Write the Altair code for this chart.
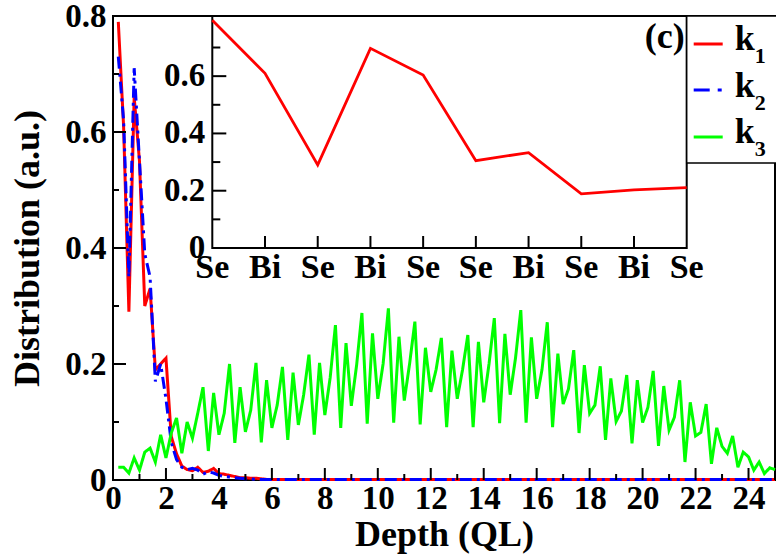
import altair as alt
import pandas as pd

# ---------------- data ----------------
depth = [round(0.2 * (i + 1), 1) for i in range(125)]  # atomic-layer depth grid (QL)

k1 = [0.79, 0.61, 0.29, 0.66, 0.55, 0.30, 0.33, 0.19, 0.20, 0.21,
      0.075, 0.045, 0.024, 0.018, 0.016, 0.022, 0.013, 0.015, 0.020, 0.011,
      0.010, 0.008, 0.006, 0.004, 0.004, 0.003, 0.003, 0.002, 0.001, 0.001,
      0.001, 0.001, 0.001, 0.001, 0.001, 0.001, 0.001, 0.001, 0.001, 0.001,
      0.001, 0.001, 0.001, 0.001, 0.001, 0.001, 0.001, 0.001, 0.001, 0.001,
      0.001, 0.001, 0.001, 0.001, 0.001, 0.001, 0.001, 0.001, 0.001, 0.001,
      0.001, 0.001, 0.001, 0.001, 0.001, 0.001, 0.001, 0.001, 0.001, 0.001,
      0.001, 0.001, 0.001, 0.001, 0.001, 0.001, 0.001, 0.001, 0.001, 0.001,
      0.001, 0.001, 0.001, 0.001, 0.001, 0.001, 0.001, 0.001, 0.001, 0.001,
      0.001, 0.001, 0.001, 0.001, 0.001, 0.001, 0.001, 0.001, 0.001, 0.001,
      0.001, 0.001, 0.001, 0.001, 0.001, 0.001, 0.001, 0.001, 0.001, 0.001,
      0.001, 0.001, 0.001, 0.001, 0.001, 0.001, 0.001, 0.001, 0.001, 0.001,
      0.001, 0.001, 0.001, 0.001, 0.001]

k2 = [0.73, 0.62, 0.35, 0.71, 0.55, 0.39, 0.35, 0.17, 0.20, 0.14,
      0.065, 0.035, 0.022, 0.018, 0.020, 0.017, 0.010, 0.014, 0.012, 0.008,
      0.006, 0.005, 0.004, 0.003, 0.002, 0.002, 0.001, 0.001, 0.001, 0.001,
      0.001, 0.001, 0.001, 0.001, 0.001, 0.001, 0.001, 0.001, 0.001, 0.001,
      0.001, 0.001, 0.001, 0.001, 0.001, 0.001, 0.001, 0.001, 0.001, 0.001,
      0.001, 0.001, 0.001, 0.001, 0.001, 0.001, 0.001, 0.001, 0.001, 0.001,
      0.001, 0.001, 0.001, 0.001, 0.001, 0.001, 0.001, 0.001, 0.001, 0.001,
      0.001, 0.001, 0.001, 0.001, 0.001, 0.001, 0.001, 0.001, 0.001, 0.001,
      0.001, 0.001, 0.001, 0.001, 0.001, 0.001, 0.001, 0.001, 0.001, 0.001,
      0.001, 0.001, 0.001, 0.001, 0.001, 0.001, 0.001, 0.001, 0.001, 0.001,
      0.001, 0.001, 0.001, 0.001, 0.001, 0.001, 0.001, 0.001, 0.001, 0.001,
      0.001, 0.001, 0.001, 0.001, 0.001, 0.001, 0.001, 0.001, 0.001, 0.001,
      0.001, 0.001, 0.001, 0.001, 0.001]

k3 = [0.022, 0.022, 0.012, 0.038, 0.017, 0.048, 0.055, 0.031, 0.078, 0.038,
      0.081, 0.107, 0.046, 0.100, 0.072, 0.115, 0.160, 0.050, 0.150, 0.078,
      0.115, 0.200, 0.064, 0.160, 0.083, 0.120, 0.202, 0.065, 0.172, 0.090,
      0.129, 0.195, 0.069, 0.185, 0.095, 0.147, 0.216, 0.078, 0.202, 0.112,
      0.176, 0.267, 0.090, 0.236, 0.128, 0.198, 0.288, 0.097, 0.253, 0.140,
      0.200, 0.296, 0.099, 0.247, 0.137, 0.200, 0.273, 0.096, 0.228, 0.152,
      0.190, 0.245, 0.091, 0.223, 0.140, 0.190, 0.250, 0.091, 0.238, 0.134,
      0.200, 0.279, 0.098, 0.252, 0.147, 0.210, 0.293, 0.099, 0.246, 0.140,
      0.190, 0.272, 0.091, 0.218, 0.131, 0.157, 0.224, 0.081, 0.198, 0.115,
      0.129, 0.196, 0.069, 0.175, 0.101, 0.119, 0.181, 0.063, 0.172, 0.099,
      0.125, 0.188, 0.059, 0.162, 0.086, 0.108, 0.172, 0.031, 0.134, 0.076,
      0.082, 0.131, 0.028, 0.090, 0.058, 0.046, 0.076, 0.022, 0.048, 0.040,
      0.017, 0.031, 0.011, 0.021, 0.018]

inset_labels = ["Se", "Bi", "Se", "Bi", "Se", "Se", "Bi", "Se", "Bi", "Se"]
inset_k1 = [0.795, 0.61, 0.29, 0.697, 0.604, 0.305, 0.333, 0.189, 0.203, 0.211]

x_major = [0, 2, 4, 6, 8, 10, 12, 14, 16, 18, 20, 22, 24]
x_minor = [1, 3, 5, 7, 9, 11, 13, 15, 17, 19, 21, 23, 25]
y_major = [0.2, 0.4, 0.6]
y_minor = [0.1, 0.3, 0.5, 0.7]
y_labels = [0, 0.2, 0.4, 0.6, 0.8]
inset_y_major = [0.2, 0.4, 0.6]
inset_y_minor = [0.1, 0.3, 0.5, 0.7]
inset_y_labels = ["0", "0.2", "0.4", "0.6"]
inset_y_label_vals = [0, 0.2, 0.4, 0.6]

series_names = ["1", "2", "3"]
series_colors = ["#ff0000", "#0000ff", "#00ff00"]
series_dash = [[1, 0], [12, 5, 3, 5], [1, 0]]

FONT = "Liberation Serif"
W, H = 662, 464

# ---------------- main plot ----------------
xs = alt.Scale(domain=[0, 25], nice=False, zero=False)
ys = alt.Scale(domain=[0, 0.8], nice=False, zero=True)

df_main = pd.DataFrame({"depth": depth * 3,
                        "value": k1 + k2 + k3,
                        "series": ["k1"] * 125 + ["k2"] * 125 + ["k3"] * 125})

x_axis = alt.Axis(values=x_major, title="Depth (QL)", ticks=False, tickSize=0, domain=False,
                  grid=False, labelFont=FONT, labelFontSize=33, labelFontWeight="bold",
                  labelColor="black", labelPadding=2, labelFlush=False, labelOverlap=False,
                  titleFont=FONT, titleFontSize=36, titleFontWeight="bold", titleColor="black",
                  titlePadding=2)
y_axis = alt.Axis(values=y_labels, format="~g", title="Distribution (a.u.)",
                  ticks=False, tickSize=0, domain=False, grid=False, labelFont=FONT,
                  labelFontSize=33, labelFontWeight="bold", labelColor="black", labelPadding=7,
                  labelFlush=False, labelOverlap=False, titleFont=FONT, titleFontSize=36,
                  titleFontWeight="bold", titleColor="black", titlePadding=18)

lines = []
for i, s in enumerate(["k1", "k2", "k3"]):
    lines.append(
        alt.Chart(df_main[df_main.series == s]).mark_line(
            color=series_colors[i], strokeWidth=3, strokeDash=series_dash[i]
        ).encode(x=alt.X("depth:Q", scale=xs, axis=x_axis),
                 y=alt.Y("value:Q", scale=ys, axis=y_axis))
    )

def xticks(vals, length):
    return alt.Chart(pd.DataFrame({"depth": vals})).mark_rule(color="black", strokeWidth=2).encode(
        x=alt.X("depth:Q", scale=xs, axis=x_axis), y=alt.value(H), y2=alt.value(H - length))

def yticks(vals, length):
    return alt.Chart(pd.DataFrame({"value": vals})).mark_rule(color="black", strokeWidth=2).encode(
        y=alt.Y("value:Q", scale=ys, axis=y_axis), x=alt.value(0), x2=alt.value(length))

main = alt.layer(lines[0], lines[1], lines[2],
                 xticks(x_major, 12), xticks(x_minor, 6),
                 yticks(y_major, 13), yticks(y_minor, 6))

# ---------------- inset ----------------
IX0, IX1 = 99.3, 573.7
IY0 = 232.0
ixs = alt.Scale(domain=[0, 9], range=[IX0, IX1], nice=False, zero=False)
iys = alt.Scale(domain=[0, 0.81], range=[IY0, 0], nice=False, zero=True)

df_box = pd.DataFrame({"x0": [0], "x1": [9], "y0": [0], "y1": [0.81]})
box = alt.Chart(df_box).mark_rect(fill="white", stroke="black", strokeWidth=2).encode(
    x=alt.X("x0:Q", scale=ixs, axis=None), x2="x1:Q",
    y=alt.Y("y0:Q", scale=iys, axis=None), y2="y1:Q")

df_inset = pd.DataFrame({"idx": list(range(10)), "value": inset_k1,
                         "label": inset_labels, "zero": [0] * 10})
inset_line = alt.Chart(df_inset).mark_line(color="#ff0000", strokeWidth=2.8).encode(
    x=alt.X("idx:Q", scale=ixs, axis=None), y=alt.Y("value:Q", scale=iys, axis=None))

inset_xt = alt.Chart(df_inset[(df_inset.idx > 0) & (df_inset.idx < 9)]).mark_rule(
    color="black", strokeWidth=2).encode(
    x=alt.X("idx:Q", scale=ixs, axis=None), y=alt.value(IY0), y2=alt.value(IY0 - 12))

def iyticks(vals, length):
    return alt.Chart(pd.DataFrame({"t": vals})).mark_rule(color="black", strokeWidth=2).encode(
        y=alt.Y("t:Q", scale=iys, axis=None), x=alt.value(IX0), x2=alt.value(IX0 + length))

inset_xl = alt.Chart(df_inset).mark_text(
    font=FONT, fontSize=34, fontWeight="bold", color="black", baseline="top", dy=3).encode(
    x=alt.X("idx:Q", scale=ixs, axis=None), y=alt.Y("zero:Q", scale=iys, axis=None),
    text="label:N")

df_iyl = pd.DataFrame({"v": inset_y_label_vals, "lab": inset_y_labels})
inset_yl = alt.Chart(df_iyl).mark_text(
    font=FONT, fontSize=33, fontWeight="bold", color="black", align="right",
    baseline="middle").encode(
    y=alt.Y("v:Q", scale=iys, axis=None), x=alt.value(IX0 - 7), text="lab:N")

one = pd.DataFrame({"a": [0]})
panel = alt.Chart(one).mark_text(font=FONT, fontSize=36, fontWeight="bold", color="black",
                                 align="right", baseline="alphabetic").encode(
    x=alt.value(IX1 - 2), y=alt.value(32), text=alt.value("(c)"))

# ---------------- legend ----------------
LX0 = IX1
leg_box = alt.Chart(one).mark_rect(fill="white", stroke="black", strokeWidth=1.5).encode(
    x=alt.value(LX0), x2=alt.value(W + 3), y=alt.value(0), y2=alt.value(147))
leg_layers = [leg_box]
sym_y = [28, 74, 121]
k_base = [34, 81, 127]
for i in range(3):
    leg_layers.append(alt.Chart(one).mark_rule(
        color=series_colors[i], strokeWidth=3, strokeDash=[16, 8, 4, 8] if i == 1 else [1, 0]
    ).encode(x=alt.value(LX0 + 7), x2=alt.value(LX0 + 36), y=alt.value(sym_y[i])))
    leg_layers.append(alt.Chart(one).mark_text(
        font=FONT, fontSize=36, fontWeight="bold", color="black", align="left",
        baseline="alphabetic").encode(
        x=alt.value(LX0 + 48), y=alt.value(k_base[i]), text=alt.value("k")))
    leg_layers.append(alt.Chart(one).mark_text(
        font=FONT, fontSize=22, fontWeight="bold", color="black", align="left",
        baseline="alphabetic").encode(
        x=alt.value(LX0 + 68), y=alt.value(k_base[i] + 13), text=alt.value(series_names[i])))

inset = alt.layer(box, inset_line, inset_xt, iyticks(inset_y_major, 14), iyticks(inset_y_minor, 8),
                  inset_xl, inset_yl, panel, *leg_layers)

chart = alt.layer(main, inset).resolve_scale(x="independent", y="independent").properties(
    width=W, height=H,
    padding={"left": 113, "top": 16, "right": 1, "bottom": 76},
    autosize=alt.AutoSizeParams(type="none"),
    background="white",
).configure_view(stroke="black", strokeWidth=2)

chart.save("out.html", embed_options={"renderer": "svg", "actions": False})
